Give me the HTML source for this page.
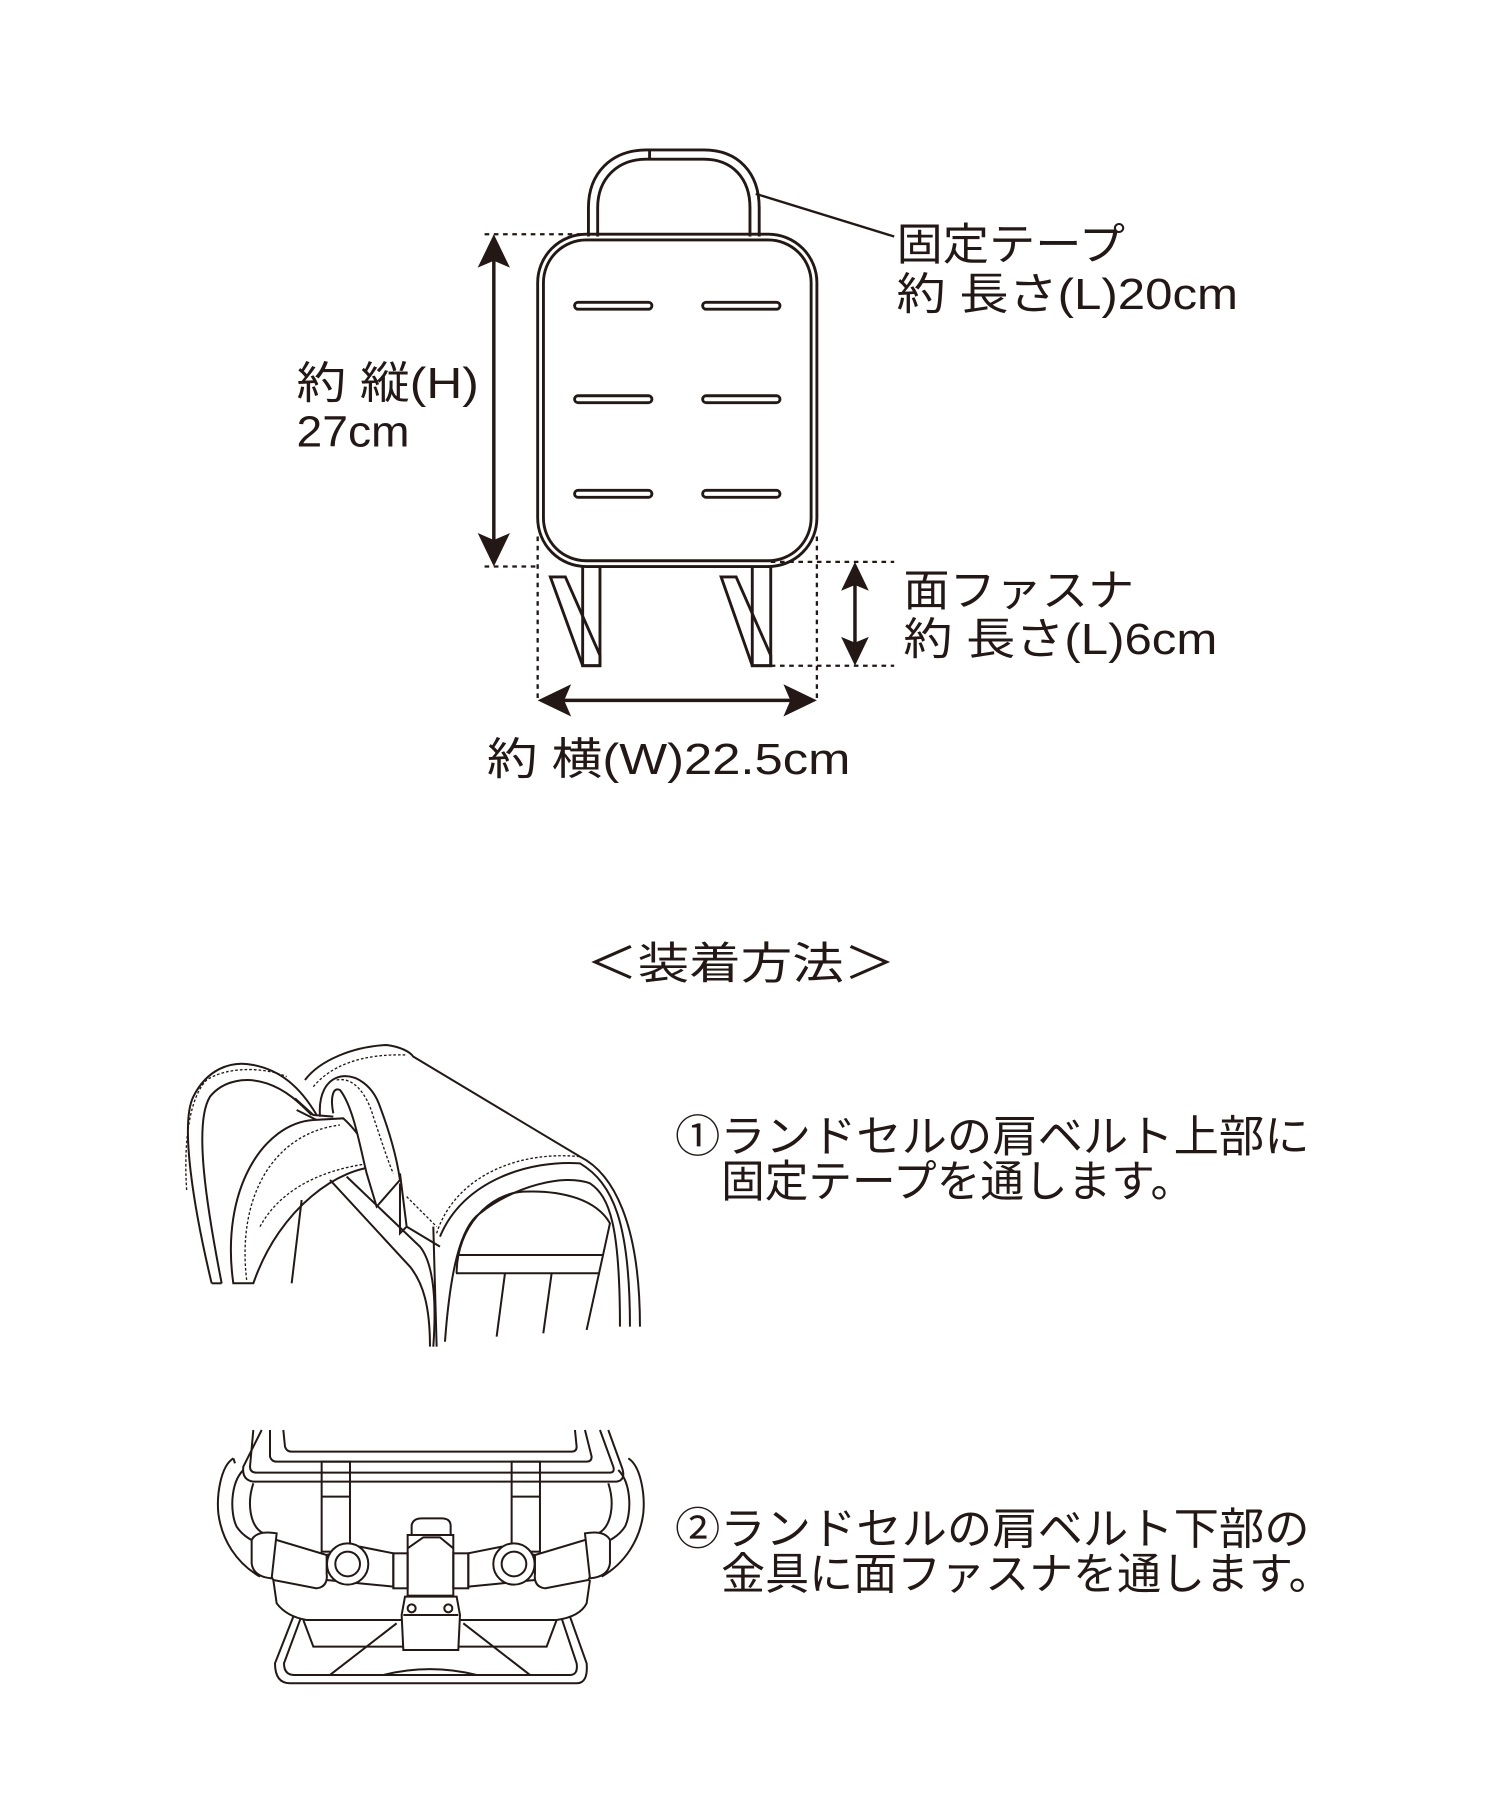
<!DOCTYPE html>
<html><head><meta charset="utf-8"><style>html,body{margin:0;padding:0;background:#fff}svg{display:block}</style></head>
<body>
<svg width="1500" height="1800" viewBox="0 0 1500 1800" xmlns="http://www.w3.org/2000/svg">
<rect width="1500" height="1800" fill="#fff"/>
<g transform="scale(1.1538)" font-family="'Liberation Sans','Noto Sans CJK JP',sans-serif" fill="#231815">
 <!-- handle -->
 <g fill="none" stroke="#231815" stroke-width="2.5">
  <path d="M510,205 L510,180 C510,150 530,130 560,130 L610,130 C640,130 658,150 658,180 L658,205"/>
  <path d="M518,205 L518,180 C518,155 535,138 560,138 L610,138 C635,138 650,155 650,180 L650,205"/>
  <line x1="563" y1="130" x2="563" y2="138"/>
  <rect x="466" y="203" width="242" height="288" rx="42"/>
  <rect x="471" y="208" width="232" height="278" rx="37"/>
  <line x1="655" y1="168" x2="775" y2="205" stroke-width="2"/>
  <rect x="498" y="262" width="67" height="6" rx="3"/>
  <rect x="609" y="262" width="67" height="6" rx="3"/>
  <rect x="498" y="343" width="67" height="6" rx="3"/>
  <rect x="609" y="343" width="67" height="6" rx="3"/>
  <rect x="498" y="425" width="67" height="6" rx="3"/>
  <rect x="609" y="425" width="67" height="6" rx="3"/>
  <path d="M505,491 L505,577 L520,577 L520,491"/>
  <path d="M652,491 L652,577 L668,577 L668,491"/>
  <polygon points="477,500 490,500 520,568 520,577 505,577"/>
  <polygon points="625,500 638,500 668,568 668,577 652,577"/>
 </g>
 <g fill="none" stroke="#231815" stroke-width="2" stroke-dasharray="4,4">
  <line x1="420" y1="203" x2="505" y2="203"/>
  <line x1="420" y1="491" x2="466" y2="491"/>
  <line x1="466" y1="465" x2="466" y2="607"/>
  <line x1="708" y1="465" x2="708" y2="607"/>
  <line x1="668" y1="487" x2="775" y2="487"/>
  <line x1="652" y1="577" x2="775" y2="577"/>
 </g>
 <g stroke="#231815" stroke-width="3">
  <line x1="428" y1="220" x2="428" y2="475"/>
  <line x1="483" y1="607" x2="690" y2="607"/>
  <line x1="741" y1="500" x2="741" y2="565"/>
 </g>
 <polygon points="428,203 414,232 428,226 442,232"/>
 <polygon points="428,491 414,462 428,468 442,462"/>
 <polygon points="466,607 495,593 489,607 495,621"/>
 <polygon points="708,607 679,593 685,607 679,621"/>
 <polygon points="741,487 729,512 741,507 753,512"/>
 <polygon points="741,577 729,552 741,557 753,552"/>

 <g font-size="38">
  <text x="777" y="225" textLength="198" lengthAdjust="spacingAndGlyphs">固定テープ</text>
  <text x="777" y="268" textLength="296" lengthAdjust="spacingAndGlyphs">約 長さ(L)20cm</text>
  <text x="257" y="345" textLength="158" lengthAdjust="spacingAndGlyphs">約 縦(H)</text>
  <text x="257" y="387" textLength="98" lengthAdjust="spacingAndGlyphs">27cm</text>
  <text x="783" y="525" textLength="200" lengthAdjust="spacingAndGlyphs">面ファスナ</text>
  <text x="783" y="567" textLength="272" lengthAdjust="spacingAndGlyphs">約 長さ(L)6cm</text>
  <text x="422" y="671" textLength="315" lengthAdjust="spacingAndGlyphs">約 横(W)22.5cm</text>
  <text x="508" y="848" textLength="268" lengthAdjust="spacingAndGlyphs">＜装着方法＞</text>
  <text x="585" y="998" textLength="550" lengthAdjust="spacingAndGlyphs">①ランドセルの肩ベルト上部に</text>
  <text x="625" y="1037" textLength="410" lengthAdjust="spacingAndGlyphs">固定テープを通します。</text>
  <text x="585" y="1338" textLength="550" lengthAdjust="spacingAndGlyphs">②ランドセルの肩ベルト下部の</text>
  <text x="625" y="1377" textLength="530" lengthAdjust="spacingAndGlyphs">金具に面ファスナを通します。</text>
 </g>
</g>

<!-- illustration 1 -->
<g transform="translate(180,1040) scale(0.3333)" fill="none" stroke="#231815" stroke-width="6">
 <path d="M95,730 C40,500 0,250 40,170 C80,90 150,60 220,75 C300,90 360,140 410,225"/>
 <path d="M125,730 C80,500 40,250 90,170 C130,120 200,110 260,130 C320,150 360,190 395,225"/>
 <path d="M20,450 C10,300 30,170 80,120 C140,80 250,80 320,110" stroke-width="4" stroke-dasharray="8,6"/>
 <line x1="95" y1="730" x2="125" y2="730"/>
 <path d="M160,730 C120,450 250,250 400,240 L490,235 C540,280 570,340 600,380 C480,380 300,500 220,730 Z" fill="#fff"/>
 <path d="M200,720 C170,470 280,280 480,255" stroke-width="4" stroke-dasharray="8,6"/>
 <path d="M240,560 C300,450 420,390 570,370" stroke-width="4" stroke-dasharray="8,6"/>
 <path d="M375,120 C420,60 520,20 620,15 C660,20 690,35 700,50 L1200,350 C1300,400 1380,550 1380,860"/>
 <path d="M400,140 C450,80 540,40 680,45" stroke-width="4" stroke-dasharray="8,6"/>
 <path d="M770,580 C820,420 1000,330 1200,350" stroke-width="4" stroke-dasharray="8,6"/>
 <path d="M680,470 L770,560" stroke-width="4" stroke-dasharray="8,6"/>
 <path d="M780,590 C850,420 1050,360 1200,370 C1300,430 1350,550 1350,860"/>
 <path d="M795,905 C810,700 840,560 900,520 C1000,440 1150,400 1230,430 C1290,470 1320,560 1320,860"/>
 <path d="M830,700 C830,560 930,460 1030,455 C1150,450 1250,480 1290,550 L1220,870"/>
 <line x1="830" y1="645" x2="1270" y2="645"/>
 <line x1="828" y1="700" x2="1260" y2="700"/>
 <line x1="975" y1="700" x2="950" y2="890"/>
 <line x1="1115" y1="700" x2="1090" y2="880"/>
 <path d="M450,420 L690,680 C730,730 750,800 750,920"/>
 <path d="M500,410 L720,620 C760,670 770,780 760,920" />
 <path d="M680,560 L780,620"/>
 <path d="M760,560 L770,920"/>
 <line x1="365" y1="480" x2="335" y2="730"/>
 <path d="M420,230 C415,160 440,120 480,110 C530,100 580,140 600,200 C630,280 650,350 660,420 L590,500 L560,400 C540,320 520,200 480,150 C460,140 450,170 460,220" fill="#fff"/>
 <path d="M470,120 C520,110 560,160 580,230 C610,320 630,380 640,400" stroke-width="4" stroke-dasharray="8,6"/>
 <path d="M660,400 L680,560 L660,580 L660,430"/>
 <path d="M345,175 L400,225 L460,230"/>
 <path d="M350,210 L410,240"/>
</g>

<!-- illustration 2 -->
<g transform="translate(210,1430) scale(0.3333)" fill="none" stroke="#231815" stroke-width="6">
 <path d="M220,0 L225,50 Q230,65 245,65 L1085,65 Q1100,65 1100,50 L1095,0"/>
 <path d="M180,0 L180,80 Q185,95 200,95 L1130,95 Q1145,95 1145,80 L1125,0"/>
 <path d="M130,0 L120,110 Q120,128 140,128 L1200,128 Q1215,128 1210,110 L1170,0"/>
 <path d="M155,0 L100,110 Q95,150 130,155 L1220,155 Q1250,150 1235,110 L1195,0"/>
 <rect x="335" y="95" width="85" height="270"/>
 <line x1="335" y1="200" x2="420" y2="200"/>
 <rect x="905" y="95" width="85" height="270"/>
 <line x1="905" y1="200" x2="990" y2="200"/>
 <path d="M190,450 L200,520 Q230,560 290,570 L1040,570 Q1110,560 1130,520 L1140,450"/>
 <path d="M250,560 L195,700 Q195,760 240,760 L1100,760 Q1135,760 1130,700 L1080,560"/>
 <path d="M272,565 L222,700 Q222,735 252,735 L1080,735 Q1105,735 1100,700 L1055,565"/>
 <path d="M280,570 L310,650 L1010,650 L1040,570"/>
 <path d="M360,735 L560,580"/>
 <path d="M960,735 L760,580"/>
 <path d="M520,735 Q660,700 800,735"/>
 <path d="M575,555 L585,500 L740,500 L750,555 L745,660 L580,660 Z" fill="#fff"/>
 <line x1="580" y1="555" x2="745" y2="555"/>
 <circle cx="605" cy="535" r="12"/>
 <circle cx="715" cy="535" r="12"/>
 <path d="M605,315 L605,285 Q610,265 635,265 L695,265 Q720,265 722,285 L722,315"/>
 <rect x="593" y="315" width="137" height="182" fill="#fff"/>
 <path d="M593,355 L640,322 L690,322 L730,355"/>
 <rect x="550" y="370" width="43" height="105"/>
 <rect x="730" y="370" width="45" height="105"/>
 <g id="side">
  <path d="M70,85 C30,110 20,200 25,250 C35,330 80,400 150,440"/>
  <path d="M100,120 C60,160 60,250 80,290 C100,320 130,335 150,340"/>
  <path d="M130,160 C110,220 120,290 160,310"/>
  <path d="M70,85 L75,100"/>
  <path d="M175,330 Q160,400 190,450 L320,475 Q355,470 350,430 L350,375 L200,330 Z" fill="#fff"/>
  <path d="M125,330 Q140,300 200,310 L185,445 Q130,440 125,400 Z" fill="#fff"/>
  <path d="M350,375 L450,350 L550,370 L550,470 L450,460 L350,450"/>
  <circle cx="413" cy="402" r="62" fill="#fff"/>
  <circle cx="413" cy="402" r="37"/>
 </g>
 <g transform="translate(1325,0) scale(-1,1)">
  <path d="M70,85 C30,110 20,200 25,250 C35,330 80,400 150,440"/>
  <path d="M100,120 C60,160 60,250 80,290 C100,320 130,335 150,340"/>
  <path d="M130,160 C110,220 120,290 160,310"/>
  <path d="M175,330 Q160,400 190,450 L320,475 Q355,470 350,430 L350,375 L200,330 Z" fill="#fff"/>
  <path d="M125,330 Q140,300 200,310 L185,445 Q130,440 125,400 Z" fill="#fff"/>
  <path d="M350,375 L450,350 L550,370 L550,470 L450,460 L350,450"/>
  <circle cx="413" cy="402" r="62" fill="#fff"/>
  <circle cx="413" cy="402" r="37"/>
 </g>
</g>
</svg>
</body></html>
